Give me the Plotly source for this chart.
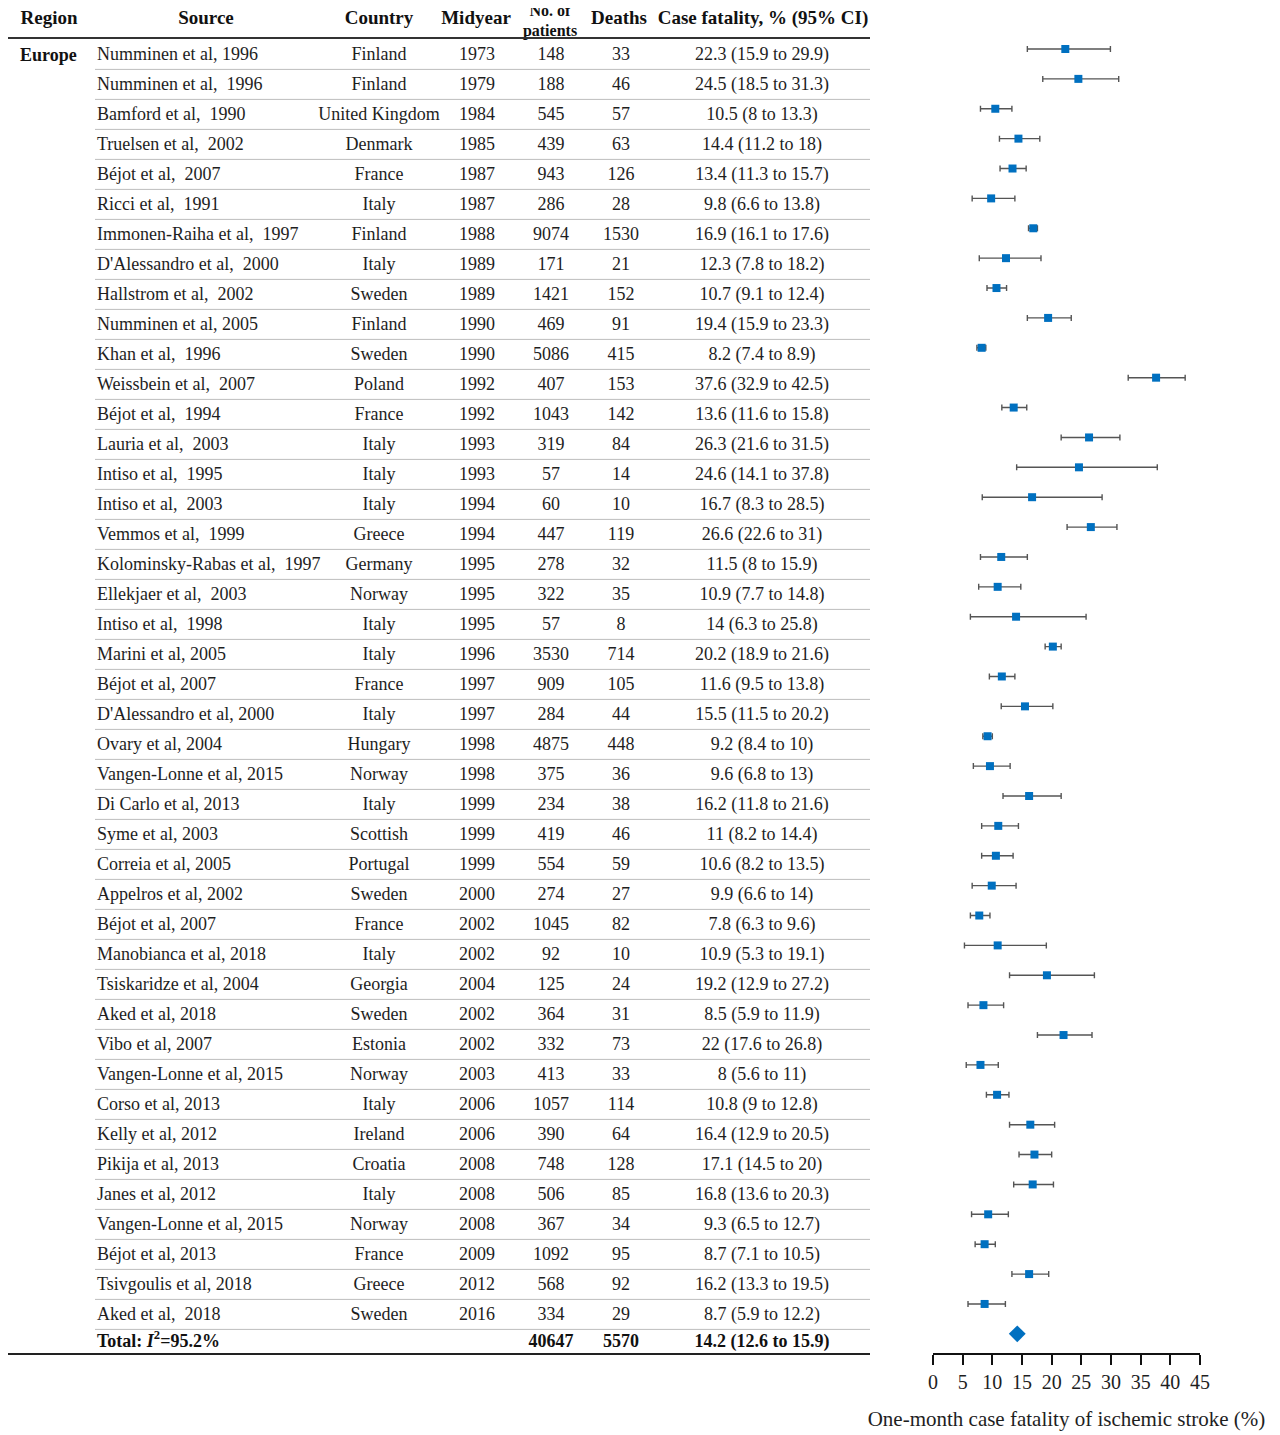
import plotly.graph_objects as go

# ---------------- data ----------------
region = "Europe"
sources = [
    "Numminen et al, 1996", "Numminen et al,  1996", "Bamford et al,  1990", "Truelsen et al,  2002",
    "Béjot et al,  2007", "Ricci et al,  1991", "Immonen-Raiha et al,  1997", "D'Alessandro et al,  2000",
    "Hallstrom et al,  2002", "Numminen et al, 2005", "Khan et al,  1996", "Weissbein et al,  2007",
    "Béjot et al,  1994", "Lauria et al,  2003", "Intiso et al,  1995", "Intiso et al,  2003",
    "Vemmos et al,  1999", "Kolominsky-Rabas et al,  1997", "Ellekjaer et al,  2003", "Intiso et al,  1998",
    "Marini et al, 2005", "Béjot et al, 2007", "D'Alessandro et al, 2000", "Ovary et al, 2004",
    "Vangen-Lonne et al, 2015", "Di Carlo et al, 2013", "Syme et al, 2003", "Correia et al, 2005",
    "Appelros et al, 2002", "Béjot et al, 2007", "Manobianca et al, 2018", "Tsiskaridze et al, 2004",
    "Aked et al, 2018", "Vibo et al, 2007", "Vangen-Lonne et al, 2015", "Corso et al, 2013",
    "Kelly et al, 2012", "Pikija et al, 2013", "Janes et al, 2012", "Vangen-Lonne et al, 2015",
    "Béjot et al, 2013", "Tsivgoulis et al, 2018", "Aked et al,  2018",
]
countries = [
    "Finland", "Finland", "United Kingdom", "Denmark", "France", "Italy", "Finland", "Italy",
    "Sweden", "Finland", "Sweden", "Poland", "France", "Italy", "Italy", "Italy",
    "Greece", "Germany", "Norway", "Italy", "Italy", "France", "Italy", "Hungary",
    "Norway", "Italy", "Scottish", "Portugal", "Sweden", "France", "Italy", "Georgia",
    "Sweden", "Estonia", "Norway", "Italy", "Ireland", "Croatia", "Italy", "Norway",
    "France", "Greece", "Sweden",
]
midyears = [
    1973, 1979, 1984, 1985, 1987, 1987, 1988, 1989, 1989, 1990, 1990, 1992, 1992, 1993, 1993, 1994,
    1994, 1995, 1995, 1995, 1996, 1997, 1997, 1998, 1998, 1999, 1999, 1999, 2000, 2002, 2002, 2004,
    2002, 2002, 2003, 2006, 2006, 2008, 2008, 2008, 2009, 2012, 2016,
]
patients = [
    148, 188, 545, 439, 943, 286, 9074, 171, 1421, 469, 5086, 407, 1043, 319, 57, 60,
    447, 278, 322, 57, 3530, 909, 284, 4875, 375, 234, 419, 554, 274, 1045, 92, 125,
    364, 332, 413, 1057, 390, 748, 506, 367, 1092, 568, 334,
]
deaths = [
    33, 46, 57, 63, 126, 28, 1530, 21, 152, 91, 415, 153, 142, 84, 14, 10,
    119, 32, 35, 8, 714, 105, 44, 448, 36, 38, 46, 59, 27, 82, 10, 24,
    31, 73, 33, 114, 64, 128, 85, 34, 95, 92, 29,
]
cf = [
    22.3, 24.5, 10.5, 14.4, 13.4, 9.8, 16.9, 12.3, 10.7, 19.4, 8.2, 37.6, 13.6, 26.3, 24.6, 16.7,
    26.6, 11.5, 10.9, 14, 20.2, 11.6, 15.5, 9.2, 9.6, 16.2, 11, 10.6, 9.9, 7.8, 10.9, 19.2,
    8.5, 22, 8, 10.8, 16.4, 17.1, 16.8, 9.3, 8.7, 16.2, 8.7,
]
ci_low = [
    15.9, 18.5, 8, 11.2, 11.3, 6.6, 16.1, 7.8, 9.1, 15.9, 7.4, 32.9, 11.6, 21.6, 14.1, 8.3,
    22.6, 8, 7.7, 6.3, 18.9, 9.5, 11.5, 8.4, 6.8, 11.8, 8.2, 8.2, 6.6, 6.3, 5.3, 12.9,
    5.9, 17.6, 5.6, 9, 12.9, 14.5, 13.6, 6.5, 7.1, 13.3, 5.9,
]
ci_high = [
    29.9, 31.3, 13.3, 18, 15.7, 13.8, 17.6, 18.2, 12.4, 23.3, 8.9, 42.5, 15.8, 31.5, 37.8, 28.5,
    31, 15.9, 14.8, 25.8, 21.6, 13.8, 20.2, 10, 13, 21.6, 14.4, 13.5, 14, 9.6, 19.1, 27.2,
    11.9, 26.8, 11, 12.8, 20.5, 20, 20.3, 12.7, 10.5, 19.5, 12.2,
]
total_patients = 40647
total_deaths = 5570
total_cf, total_lo, total_hi = 14.2, 12.6, 15.9
i_squared = 95.2

headers = ["Region", "Source", "Country", "Midyear", "Deaths", "Case fatality, % (95% CI)"]
header_patients = "No. of<br>patients"
x_title = "One-month case fatality of ischemic stroke (%)"

# ---------------- style / geometry ----------------
FONT = "Liberation Serif, Times New Roman, serif"
TXT = "#1e1e1e"
BLUE = "#0070C0"
PAGE_W, PAGE_H = 1280, 1435
OFF = 8                      # default page body margin
W, H = PAGE_W - OFF, PAGE_H - OFF

n = len(sources)
rows = list(range(n))
total_row = n


def fmt(v):
    return f"{v:g}"


cf_text = [f"{fmt(c)} ({fmt(l)} to {fmt(h)})" for c, l, h in zip(cf, ci_low, ci_high)]

# table text axis (page pixel rows): page y = 55 + 30*i
ty0, tdy = 55.0, 30.0
y2_range = [(PAGE_H - ty0) / tdy, (OFF - ty0) / tdy]


def ty(pix):
    return (pix - ty0) / tdy


# marker axis: page y = 49 + 29.88*i, axis line at page y 1353
my0, mdy, axis_pix = 49.0, 29.88, 1353.0
y_range = [(axis_pix - my0) / mdy, (OFF - my0) / mdy]

fig = go.Figure()

# forest plot markers
fig.add_trace(go.Scatter(
    x=cf, y=rows, mode="markers", xaxis="x", yaxis="y",
    marker=dict(symbol="square", size=8, color=BLUE),
    error_x=dict(type="data", symmetric=False,
                 array=[h - c for h, c in zip(ci_high, cf)],
                 arrayminus=[c - l for c, l in zip(cf, ci_low)],
                 color="#555555", thickness=1.4, width=3),
    showlegend=False, hoverinfo="skip",
))
fig.add_trace(go.Scatter(
    x=[total_cf], y=[total_row], mode="markers", xaxis="x", yaxis="y",
    marker=dict(symbol="diamond", size=13, color=BLUE),
    showlegend=False, hoverinfo="skip",
))

tfont = dict(family=FONT, size=18, color=TXT)
bfont = dict(family=FONT, size=18, color="#111111")
hfont = dict(family=FONT, size=19, color="#111111")
pfont = dict(family=FONT, size=16, color="#111111")


def col(xpos, values, pos="middle center"):
    return go.Scatter(x=[xpos] * len(values), y=rows, text=[str(v) for v in values],
                      mode="text", textposition=pos, xaxis="x2", yaxis="y2", textfont=tfont,
                      showlegend=False, hoverinfo="skip", cliponaxis=False)


fig.add_trace(go.Scatter(x=[20], y=[ty(56)], text=[f"<b>{region}</b>"], mode="text",
                         textposition="middle right", xaxis="x2", yaxis="y2",
                         textfont=bfont, showlegend=False, hoverinfo="skip"))
fig.add_trace(col(97, sources, "middle right"))
fig.add_trace(col(379, countries))
fig.add_trace(col(477, midyears))
fig.add_trace(col(551, patients))
fig.add_trace(col(621, deaths))
fig.add_trace(col(762, cf_text))

# total row
fig.add_trace(go.Scatter(
    x=[97, 551, 621, 762], y=[ty(1342)] * 4,
    text=[f"<b>Total: <i>I</i><sup>2</sup>={i_squared}%</b>", f"<b>{total_patients}</b>",
          f"<b>{total_deaths}</b>", f"<b>{fmt(total_cf)} ({fmt(total_lo)} to {fmt(total_hi)})</b>"],
    mode="text", textposition=["middle right", "middle center", "middle center", "middle center"],
    xaxis="x2", yaxis="y2", textfont=bfont, showlegend=False, hoverinfo="skip",
))

# headers (top 8 px of the page are body margin, so keep them just below it)
fig.add_trace(go.Scatter(
    x=[49, 206, 379, 476, 619, 763], y=[ty(19)] * 6, text=[f"<b>{h}</b>" for h in headers],
    mode="text", textposition="middle center", xaxis="x2", yaxis="y2",
    textfont=hfont, showlegend=False, hoverinfo="skip", cliponaxis=False,
))
fig.add_trace(go.Scatter(
    x=[550], y=[ty(22)], text=[f"<b>{header_patients}</b>"],
    mode="text", textposition="middle center", xaxis="x2", yaxis="y2",
    textfont=pfont, showlegend=False, hoverinfo="skip", cliponaxis=False,
))

# table rules
shapes = []
shapes.append(dict(type="line", xref="x2", yref="y2", x0=3, x1=870, y0=ty(38), y1=ty(38),
                   line=dict(color="#333333", width=2)))
shapes.append(dict(type="line", xref="x2", yref="y2", x0=3, x1=870, y0=ty(1354), y1=ty(1354),
                   line=dict(color="#222222", width=2)))
for i in rows:
    shapes.append(dict(type="line", xref="x2", yref="y2", x0=95, x1=870,
                       y0=i + 0.48, y1=i + 0.48, line=dict(color="#bdbdbd", width=1)))

fig.update_layout(
    width=W, height=H,
    margin=dict(l=0, r=0, t=0, b=0),
    paper_bgcolor="white", plot_bgcolor="rgba(0,0,0,0)",
    font=dict(family=FONT, color=TXT),
    shapes=shapes,
    xaxis=dict(domain=[(933 - OFF) / W, (1200 - OFF) / W], range=[0, 45], dtick=5, tick0=0,
               showgrid=False, zeroline=False, showline=True, linecolor="#111111", linewidth=1.5,
               ticks="outside", ticklen=10, tickwidth=1.5, tickcolor="#111111",
               tickfont=dict(family=FONT, size=20, color=TXT),
               title=dict(text=x_title, font=dict(family=FONT, size=21, color=TXT), standoff=20),
               anchor="y", automargin=False, fixedrange=True),
    yaxis=dict(domain=[1 - (axis_pix - OFF) / H, 1], range=y_range, visible=False,
               showgrid=False, zeroline=False, anchor="x", fixedrange=True),
    xaxis2=dict(domain=[0, 1], range=[OFF, PAGE_W], visible=False, anchor="y2", fixedrange=True),
    yaxis2=dict(domain=[0, 1], range=y2_range, visible=False, anchor="x2", fixedrange=True),
)

fig.write_html("out.html")
